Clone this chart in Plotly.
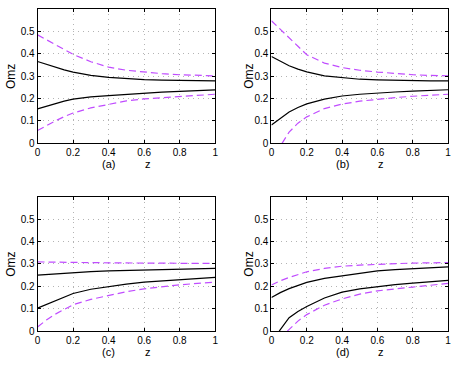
import plotly.graph_objects as go

# sample points along z
z = [0, 0.05, 0.1, 0.15, 0.2, 0.3, 0.4, 0.5, 0.6, 0.7, 0.8, 0.9, 1.0]

# panel (a)
a_black_up = [0.365, 0.352, 0.340, 0.328, 0.318, 0.303, 0.294, 0.288, 0.284, 0.282, 0.280, 0.279, 0.279]
a_black_lo = [0.154, 0.166, 0.177, 0.188, 0.197, 0.207, 0.213, 0.219, 0.223, 0.228, 0.232, 0.235, 0.238]
a_mag_up = [0.484, 0.462, 0.442, 0.418, 0.397, 0.364, 0.340, 0.326, 0.318, 0.311, 0.306, 0.303, 0.301]
a_mag_lo = [0.057, 0.080, 0.100, 0.119, 0.135, 0.158, 0.175, 0.189, 0.198, 0.204, 0.208, 0.214, 0.219]

# panel (b)
b_black_up = [0.387, 0.366, 0.346, 0.331, 0.319, 0.301, 0.292, 0.286, 0.283, 0.281, 0.280, 0.279, 0.279]
b_black_lo = [0.082, 0.113, 0.140, 0.160, 0.176, 0.197, 0.211, 0.219, 0.225, 0.229, 0.233, 0.236, 0.239]
b_mag_up = [0.547, 0.510, 0.474, 0.433, 0.395, 0.358, 0.338, 0.326, 0.318, 0.311, 0.306, 0.303, 0.301]
b_mag_lo_z = [0.06, 0.1, 0.15, 0.2, 0.3, 0.4, 0.5, 0.6, 0.7, 0.8, 0.9, 1.0]
b_mag_lo = [0.0, 0.050, 0.090, 0.118, 0.155, 0.175, 0.188, 0.197, 0.204, 0.210, 0.215, 0.219]

# panel (c)
c_black_up = [0.250, 0.253, 0.256, 0.259, 0.262, 0.266, 0.269, 0.271, 0.273, 0.275, 0.277, 0.279, 0.280]
c_black_lo = [0.103, 0.120, 0.136, 0.153, 0.168, 0.187, 0.200, 0.210, 0.219, 0.225, 0.230, 0.235, 0.240]
c_mag_up = [0.309, 0.309, 0.308, 0.308, 0.307, 0.306, 0.305, 0.304, 0.304, 0.303, 0.303, 0.302, 0.302]
c_mag_lo = [0.019, 0.050, 0.076, 0.098, 0.118, 0.142, 0.160, 0.176, 0.189, 0.199, 0.207, 0.213, 0.219]

# panel (d)
d_black_up = [0.150, 0.172, 0.190, 0.205, 0.218, 0.236, 0.248, 0.260, 0.269, 0.275, 0.280, 0.284, 0.287]
d_black_lo_z = [0.044, 0.1, 0.15, 0.2, 0.3, 0.4, 0.5, 0.6, 0.7, 0.8, 0.9, 1.0]
d_black_lo = [0.0, 0.060, 0.088, 0.110, 0.148, 0.174, 0.189, 0.200, 0.208, 0.214, 0.221, 0.227]
d_mag_up = [0.206, 0.225, 0.240, 0.254, 0.265, 0.280, 0.290, 0.295, 0.299, 0.302, 0.304, 0.305, 0.306]
d_mag_lo_z = [0.09, 0.15, 0.2, 0.3, 0.4, 0.5, 0.6, 0.7, 0.8, 0.9, 1.0]
d_mag_lo = [0.0, 0.045, 0.074, 0.116, 0.144, 0.165, 0.180, 0.190, 0.197, 0.205, 0.213]

panels = [
    ("(a)", [(z, a_black_up), (z, a_black_lo)], [(z, a_mag_up), (z, a_mag_lo)]),
    ("(b)", [(z, b_black_up), (z, b_black_lo)], [(z, b_mag_up), (b_mag_lo_z, b_mag_lo)]),
    ("(c)", [(z, c_black_up), (z, c_black_lo)], [(z, c_mag_up), (z, c_mag_lo)]),
    ("(d)", [(z, d_black_up), (d_black_lo_z, d_black_lo)], [(z, d_mag_up), (d_mag_lo_z, d_mag_lo)]),
]

W, H = 458, 366
xdoms = [[35 / W, 215 / W], [272 / W, 451 / W]]
ydoms = [[1 - 145.7 / H, 1 - 9 / H], [1 - 336.7 / H, 1 - 200 / H]]
ylab_x = [8 / W, 249 / W]
sublab_y = [1 - 167 / H, 1 - 358 / H]

font = dict(family="Liberation Sans, Arial, sans-serif", size=10, color="black")
magenta = "#c04cff"

fig = go.Figure()
layout = {}
annotations = []
for i, (lab, blacks, mags) in enumerate(panels):
    row, col = divmod(i, 2)
    n = "" if i == 0 else str(i + 1)
    xa, ya = "x" + n, "y" + n
    for xs, ys in blacks:
        fig.add_trace(go.Scatter(x=xs, y=ys, mode="lines", xaxis=xa, yaxis=ya,
                                 line=dict(color="black", width=1.2),
                                 showlegend=False))
    for xs, ys in mags:
        fig.add_trace(go.Scatter(x=xs, y=ys, mode="lines", xaxis=xa, yaxis=ya,
                                 line=dict(color=magenta, width=1.2, dash="7px,4px"),
                                 showlegend=False))
    common = dict(showline=True, linecolor="black", linewidth=1, mirror="ticks",
                  ticks="inside", ticklen=3, tickcolor="black",
                  showgrid=True, gridcolor="#b4b4b4", griddash="1px,4px", gridwidth=1,
                  zeroline=False, tickfont=font, ticklabeloverflow="allow")
    layout["xaxis" + n] = dict(common, domain=xdoms[col], anchor=ya, range=[0, 1],
                               tickvals=[0, 0.2, 0.4, 0.6, 0.8, 1],
                               ticktext=["0", "0.2", "0.4", "0.6", "0.8", "1"])
    layout["yaxis" + n] = dict(common, domain=ydoms[row], anchor=xa, range=[0, 0.6],
                               tickvals=[0, 0.1, 0.2, 0.3, 0.4, 0.5],
                               ticktext=["0", "0.1", "0.2", "0.3", "0.4", "0.5"])
    annotations.append(dict(text="Omz", textangle=-90, xref="paper", yref=ya + " domain",
                            x=ylab_x[col], y=0.5, showarrow=False,
                            font=dict(font, size=12), xanchor="center", yanchor="middle"))
    annotations.append(dict(text=lab, xref=xa, yref="paper", x=0.4, y=sublab_y[row],
                            showarrow=False, font=dict(font, size=11),
                            xanchor="center", yanchor="middle"))
    annotations.append(dict(text="z", xref=xa, yref="paper", x=0.62, y=sublab_y[row],
                            showarrow=False, font=dict(font, size=11),
                            xanchor="center", yanchor="middle"))

fig.update_layout(**layout)
fig.update_layout(width=W, height=H, margin=dict(l=0, r=0, t=0, b=0),
                  paper_bgcolor="white", plot_bgcolor="white",
                  annotations=annotations, font=font)
# the page body has a default 8px margin; drop it so the figure fills the window
fig.write_html("out.html", config={"displayModeBar": False},
               post_script="document.body.style.margin='0';document.body.style.overflow='hidden';")
